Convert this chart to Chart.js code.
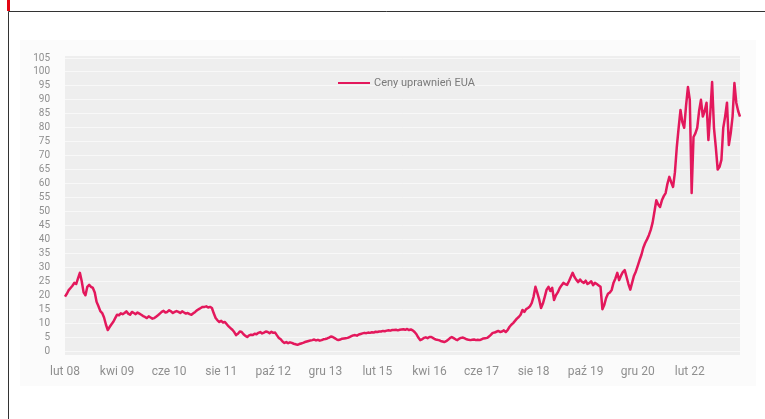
<!DOCTYPE html>
<html>
<head>
<meta charset="utf-8">
<script src="https://cdn.jsdelivr.net/npm/chart.js@4"></script>
<style>
  html, body { margin: 0; padding: 0; background: #ffffff; }
  canvas { display: block; }
</style>
</head>
<body>
<canvas id="chart" width="765" height="419"></canvas>
<script>
// EUA allowance prices (EUR/t), two readings per month, Feb 2008 - Mar 2023
const seriesName = 'Ceny uprawnień EUA';
const startYear = 2008;
const startMonth = 2; // February
const tickLabels = ['lut 08', 'kwi 09', 'cze 10', 'sie 11', 'paź 12', 'gru 13', 'lut 15',
                    'kwi 16', 'cze 17', 'sie 18', 'paź 19', 'gru 20', 'lut 22'];
const tickEvery = 28; // one axis label every 14 months

const prices = [
  19.5, 20.5, 21.8, 22.6, 23.4, 24.4, 24.0, 26.0, 28.0, 25.0,
  21.0, 20.0, 23.0, 23.7, 23.0, 22.6, 21.0, 17.6, 16.0, 14.3,
  13.6, 12.0, 9.5, 7.5, 8.6, 9.6, 10.5, 11.8, 13.0, 12.8,
  13.5, 13.2, 13.6, 14.2, 13.4, 13.0, 14.0, 13.6, 13.2, 13.8,
  13.4, 13.0, 12.5, 12.2, 11.8, 12.4, 12.0, 11.6, 11.8, 12.3,
  12.8, 13.4, 14.0, 14.4, 13.8, 14.0, 14.6, 14.2, 13.6, 14.0,
  14.3, 14.0, 13.6, 14.2, 13.8, 13.4, 13.6, 13.2, 13.0, 13.5,
  14.0, 14.6, 15.0, 15.4, 15.8, 15.8, 16.0, 15.6, 15.8, 15.4,
  13.5, 11.8, 11.0, 10.4, 10.8, 10.2, 10.4, 9.6, 8.8, 8.2,
  7.6, 6.8, 5.7, 6.2, 7.0, 6.8, 6.0, 5.4, 5.0, 5.6,
  5.8, 5.7, 6.2, 6.0, 6.5, 6.8, 6.3, 6.6, 7.0, 6.8,
  6.4, 6.9, 6.5, 6.6, 5.6, 4.7, 4.2, 3.4, 2.9, 3.2,
  2.8, 3.1, 2.9, 2.6, 2.4, 2.2, 2.5, 2.7, 2.9, 3.2,
  3.4, 3.6, 3.8, 3.9, 4.1, 3.8, 4.0, 3.7, 3.9, 4.2,
  4.3, 4.5, 4.8, 5.2, 5.0, 4.6, 4.2, 3.9, 4.1, 4.4,
  4.5, 4.6, 4.7, 5.0, 5.3, 5.6, 5.7, 5.5, 5.9, 6.1,
  6.3, 6.5, 6.4, 6.6, 6.5, 6.7, 6.6, 6.9, 6.8, 7.0,
  7.0, 7.2, 7.1, 7.3, 7.4, 7.3, 7.5, 7.5, 7.6, 7.4,
  7.6, 7.7, 7.8, 7.6, 7.9, 7.5, 7.7, 7.4, 6.8, 6.0,
  4.8, 3.9, 4.2, 4.7, 4.9, 4.6, 5.0, 5.0, 4.6, 4.2,
  4.0, 3.9, 3.6, 3.4, 3.2, 3.5, 4.0, 4.6, 5.0, 4.6,
  4.2, 3.9, 4.4, 4.7, 4.8, 4.5, 4.2, 4.0, 3.9, 4.0,
  4.1, 3.9, 4.0, 3.9, 4.2, 4.5, 4.6, 4.7, 5.2, 5.8,
  6.5, 6.6, 6.9, 7.2, 6.8, 7.0, 7.4, 6.8, 7.5, 8.6,
  9.4, 10.0, 10.8, 11.6, 12.2, 13.0, 14.7, 14.0, 15.0, 15.4,
  16.0, 17.2, 19.5, 23.0, 20.8, 18.5, 15.4, 17.0, 19.4, 22.0,
  23.0, 21.5, 22.6, 18.3, 20.0, 21.0, 22.5, 23.5, 24.4, 24.0,
  23.7, 25.0, 26.5, 28.0, 26.5, 25.5, 24.7, 25.6, 24.8, 24.4,
  25.2, 24.0, 24.4, 25.0, 23.6, 24.4, 24.0, 23.5, 23.0, 15.0,
  16.5, 19.0, 20.5, 21.0, 21.9, 24.5, 26.0, 28.0, 25.4, 27.0,
  28.3, 29.0, 26.5, 24.0, 22.0, 24.5, 27.0, 28.5, 30.5, 32.6,
  34.5, 37.0, 38.7, 40.0, 41.5, 43.4, 46.0, 50.0, 54.0, 52.5,
  51.6, 54.0, 55.5, 56.6, 60.0, 62.4, 60.5, 58.8, 64.0, 73.0,
  80.0, 86.4, 82.0, 80.0, 88.0, 94.6, 90.0, 56.6, 76.7, 78.0,
  80.0, 86.0, 90.0, 84.0, 86.0, 89.0, 75.6, 85.0, 96.4, 80.0,
  73.0, 65.0, 66.0, 68.5, 80.0, 84.0, 89.0, 73.8, 78.0, 84.0,
  96.0, 89.0, 86.0, 84.0
];

// one category per half month, starting with the first reading
const periods = prices.map((_, i) => {
  const m = startMonth - 1 + Math.floor(i / 2);
  const y = startYear + Math.floor(m / 12);
  const mm = String((m % 12) + 1).padStart(2, '0');
  return `${y}-${mm}-${i % 2 ? '16' : '01'}`;
});

const lineColor = '#e3185c';
const textColor = '#8f8f8f';
const fontFamily = 'Roboto, "Liberation Sans", sans-serif';

// page frame, pale panel and the grey plotting field
const backdrop = {
  id: 'backdrop',
  beforeDraw(chart) {
    const { ctx, chartArea: a } = chart;
    ctx.save();
    ctx.fillStyle = '#ffffff';
    ctx.fillRect(0, 0, chart.width, chart.height);
    ctx.fillStyle = '#fbfbfb';
    ctx.fillRect(20, 40, 736, 346);
    ctx.fillStyle = '#eeeeee';
    ctx.fillRect(a.left, a.top - 2, a.right - a.left, a.bottom - a.top + 6);
    ctx.strokeStyle = '#333333';
    ctx.lineWidth = 1;
    ctx.beginPath();
    ctx.moveTo(8.5, chart.height);
    ctx.lineTo(8.5, 11.5);
    ctx.lineTo(chart.width, 11.5);
    ctx.stroke();
    ctx.fillStyle = '#e30613';
    ctx.fillRect(7, 0, 3, 11);
    ctx.restore();
  }
};

// legend entry placed inside the plot, near the top
const innerLegend = {
  id: 'innerLegend',
  afterDraw(chart) {
    const { ctx } = chart;
    const ds = chart.data.datasets[0];
    const y = 83;
    ctx.save();
    ctx.strokeStyle = ds.borderColor;
    ctx.lineWidth = 2;
    ctx.beginPath();
    ctx.moveTo(338, y);
    ctx.lineTo(370, y);
    ctx.stroke();
    ctx.fillStyle = '#7a7a7a';
    ctx.font = '11px ' + fontFamily;
    ctx.textBaseline = 'middle';
    ctx.textAlign = 'left';
    ctx.fillText(ds.label, 374, y);
    ctx.restore();
  }
};

new Chart(document.getElementById('chart'), {
  type: 'line',
  data: {
    labels: periods,
    datasets: [{
      label: seriesName,
      data: prices,
      borderColor: lineColor,
      borderWidth: 2.5,
      borderJoinStyle: 'round',
      pointRadius: 0,
      tension: 0,
      fill: false
    }]
  },
  options: {
    responsive: false,
    animation: false,
    devicePixelRatio: 1,
    layout: { padding: { left: 20, right: 25, top: 58, bottom: 40 } },
    plugins: {
      legend: { display: false },
      tooltip: { enabled: false }
    },
    scales: {
      x: {
        type: 'category',
        grid: { display: false, drawTicks: false },
        border: { display: false },
        afterBuildTicks(scale) {
          scale.ticks = scale.ticks.filter(t => t.value % tickEvery === 0);
        },
        afterFit(scale) { scale.height = 28; },
        ticks: {
          autoSkip: false,
          maxRotation: 0,
          minRotation: 0,
          padding: 14,
          color: textColor,
          font: { family: fontFamily, size: 12 },
          callback(value) { return tickLabels[value / tickEvery] ?? ''; }
        }
      },
      y: {
        min: 0,
        max: 105,
        grid: { color: '#f8f8f8', lineWidth: 1, drawTicks: false },
        border: { display: false },
        afterFit(scale) { scale.width = 45; },
        ticks: {
          stepSize: 5,
          autoSkip: false,
          padding: 15,
          color: textColor,
          font: { family: fontFamily, size: 10 }
        }
      }
    }
  },
  plugins: [backdrop, innerLegend]
});
</script>
</body>
</html>
